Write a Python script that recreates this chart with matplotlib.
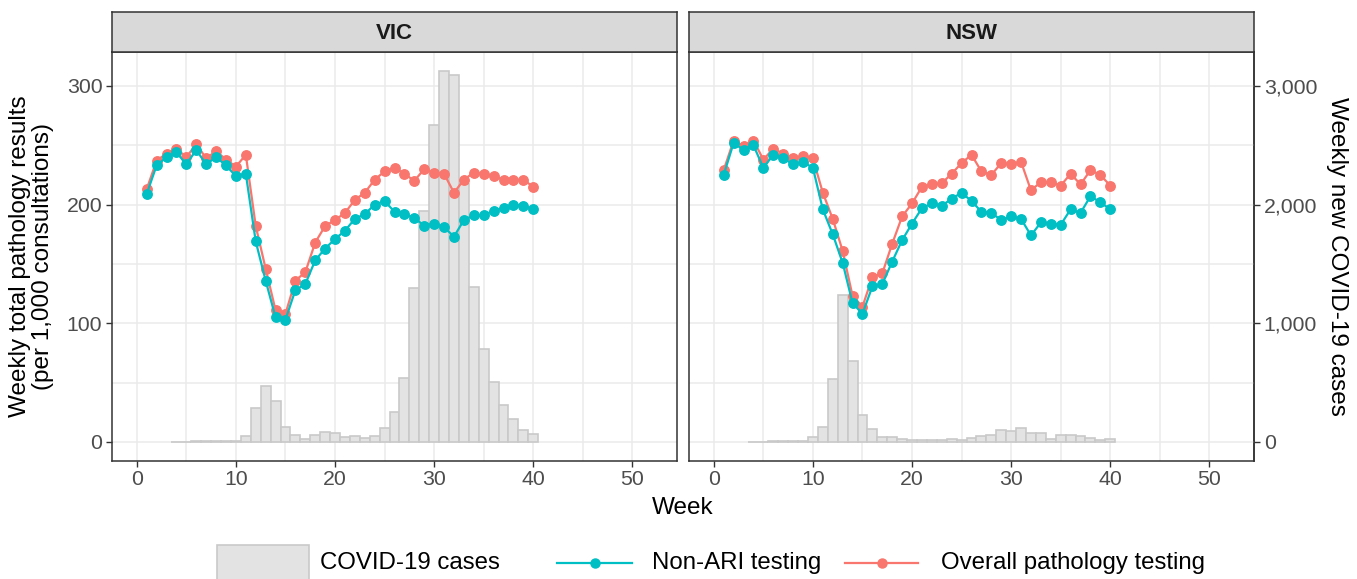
import matplotlib
matplotlib.use("Agg")
import matplotlib.pyplot as plt
from matplotlib.patches import Rectangle
from matplotlib.lines import Line2D
from matplotlib.ticker import FuncFormatter, MultipleLocator
import numpy as np

plt.rcParams['font.family'] = ['Liberation Sans', 'DejaVu Sans']

# ---------------- data ----------------
weeks = list(range(1, 41))

vic_overall = [213, 237, 243, 247, 240, 251, 239, 245, 238, 232,
               242, 182, 146, 111, 108, 136, 143, 168, 182, 187,
               193, 204, 210, 221, 228, 231, 226, 220, 230, 227,
               226, 210, 221, 227, 226, 224, 221, 221, 221, 215]
vic_nonari = [209, 233, 240, 244, 234, 246, 234, 240, 233, 224,
              226, 169, 136, 105, 103, 128, 133, 153, 163, 171,
              178, 188, 192, 200, 203, 194, 192, 189, 182, 184,
              181, 173, 187, 191, 191, 195, 197, 200, 199, 196]

nsw_overall = [229, 254, 249, 254, 238, 247, 243, 239, 241, 239,
               210, 188, 161, 123, 114, 139, 142, 167, 190, 201,
               215, 217, 218, 226, 235, 242, 228, 225, 235, 234,
               236, 212, 219, 219, 216, 226, 217, 229, 225, 216]
nsw_nonari = [225, 252, 246, 250, 231, 242, 239, 234, 236, 231,
              196, 175, 151, 117, 108, 131, 133, 152, 170, 184,
              197, 201, 199, 205, 210, 203, 194, 193, 187, 190,
              188, 174, 185, 184, 183, 196, 193, 207, 202, 196]

case_weeks = list(range(4, 41))
vic_cases = [2, 3, 4, 5, 6, 8, 12,
             50, 284, 472, 348, 124, 56, 22, 62, 84, 79,
             45, 50, 34, 50, 115, 254, 538, 1295, 1949, 2670,
             3125, 3092, 2171, 1308, 781, 508, 312, 197, 101, 67]
nsw_cases = [2, 3, 4, 5, 6, 8, 40,
             129, 528, 1238, 682, 230, 112, 45, 45, 22, 17,
             15, 15, 18, 28, 17, 37, 53, 62, 101, 93,
             115, 79, 73, 28, 62, 62, 53, 34, 17, 22]

panels = [("VIC", vic_cases, vic_nonari, vic_overall),
          ("NSW", nsw_cases, nsw_nonari, nsw_overall)]

x_ticks = [0, 10, 20, 30, 40, 50]
y_ticks = [0, 100, 200, 300]
case_ticks = [0, 1000, 2000, 3000]
scale = 10.0  # cases per unit on the left axis

# ---------------- style ----------------
TEAL = "#00BFC4"
RED = "#F8766D"
BAR_FILL = "#E3E3E3"
BAR_EDGE = "#C9C9C9"
GRID = "#EBEBEB"
BORDER = "#333333"
TICKCOL = "#4D4D4D"
FS = 15.3      # tick labels
TFS = 17.5     # axis titles
LFS = 17.3     # legend
SFS = 16       # strip

W, H = 1357, 579
fig = plt.figure(figsize=(W / 100, H / 100), dpi=100)

def fx(px):
    return px / W

def fy(py):
    return 1 - py / H

top, bottom = 52, 460.7
strip_top = 12
panel_x = [(112, 677), (689, 1254)]

axes = []
for i, (name, cases, nonari, overall) in enumerate(panels):
    x0, x1 = panel_x[i]
    ax = fig.add_axes([fx(x0), fy(bottom), fx(x1 - x0), (bottom - top) / H])
    axes.append(ax)
    ax.set_xlim(-2.5, 54.5)
    ax.set_ylim(-15.8, 328.6)
    ax.set_xticks(x_ticks)
    ax.set_yticks(y_ticks)
    ax.xaxis.set_minor_locator(MultipleLocator(5))
    ax.yaxis.set_minor_locator(MultipleLocator(50))
    ax.grid(True, which='major', color=GRID, lw=1.1, zorder=0)
    ax.grid(True, which='minor', color=GRID, lw=1.1, zorder=0)
    ax.set_axisbelow(True)
    ax.tick_params(which='minor', length=0)
    ax.tick_params(which='major', length=4, width=1, color=BORDER,
                   labelsize=FS, labelcolor=TICKCOL, pad=3)
    for sp in ax.spines.values():
        sp.set_color(BORDER)
        sp.set_linewidth(1.1)

    ax.bar(case_weeks, np.array(cases) / scale, width=1.0, color=BAR_FILL,
           edgecolor=BAR_EDGE, linewidth=1.2, zorder=2)
    ax.plot(weeks, overall, color=RED, lw=1.6, marker='o', ms=6.8, zorder=3)
    ax.plot(weeks, nonari, color=TEAL, lw=1.6, marker='o', ms=6.8, zorder=4)

    if i == 0:
        ax.set_yticklabels([str(v) for v in y_ticks])
    else:
        ax.tick_params(axis='y', which='both', left=False, labelleft=False)
        sec = ax.secondary_yaxis('right', functions=(lambda v: v * scale, lambda v: v / scale))
        sec.set_yticks(case_ticks)
        sec.yaxis.set_major_formatter(FuncFormatter(lambda v, p: f"{int(v):,}"))
        sec.tick_params(length=4, width=1, color=BORDER, labelsize=FS,
                        labelcolor=TICKCOL, pad=3)
        sec.spines['right'].set_color(BORDER)
        sec.spines['right'].set_linewidth(1.1)
        sec.set_ylabel("Weekly new COVID-19 cases", fontsize=TFS,
                       rotation=270, labelpad=22, color='black')

    # strip
    sax = fig.add_axes([fx(x0), fy(top), fx(x1 - x0), (top - strip_top) / H])
    sax.set_xticks([])
    sax.set_yticks([])
    sax.set_facecolor("#D9D9D9")
    for sp in sax.spines.values():
        sp.set_color(BORDER)
        sp.set_linewidth(1.1)
    sax.text(0.5, 0.47, name, ha='center', va='center', fontsize=SFS,
             fontweight='bold', color='#1A1A1A', transform=sax.transAxes)

axes[0].set_ylabel("Weekly total pathology results\n(per 1,000 consultations)",
                   fontsize=TFS, labelpad=9, linespacing=1.05)
fig.text(fx(683), fy(508), "Week", ha='center', va='center', fontsize=TFS)

# ---------------- legend ----------------
lax = fig.add_axes([0, 0, 1, 1], facecolor='none')
lax.set_xlim(0, W)
lax.set_ylim(H, 0)
lax.axis('off')
ly = 563
lax.add_patch(Rectangle((217, 545), 92, 40, facecolor=BAR_FILL,
                        edgecolor=BAR_EDGE, lw=1.2, clip_on=False))
lax.text(320, ly, "COVID-19 cases", fontsize=LFS, va='center', ha='left')
lax.add_line(Line2D([557, 632], [ly, ly], color=TEAL, lw=1.6))
lax.plot([595], [ly], 'o', color=TEAL, ms=6.5)
lax.text(652, ly, "Non-ARI testing", fontsize=LFS, va='center', ha='left')
lax.add_line(Line2D([845, 918], [ly, ly], color=RED, lw=1.6))
lax.plot([882], [ly], 'o', color=RED, ms=6.5)
lax.text(941, ly, "Overall pathology testing", fontsize=LFS, va='center', ha='left')

fig.savefig("out.png", dpi=100)
